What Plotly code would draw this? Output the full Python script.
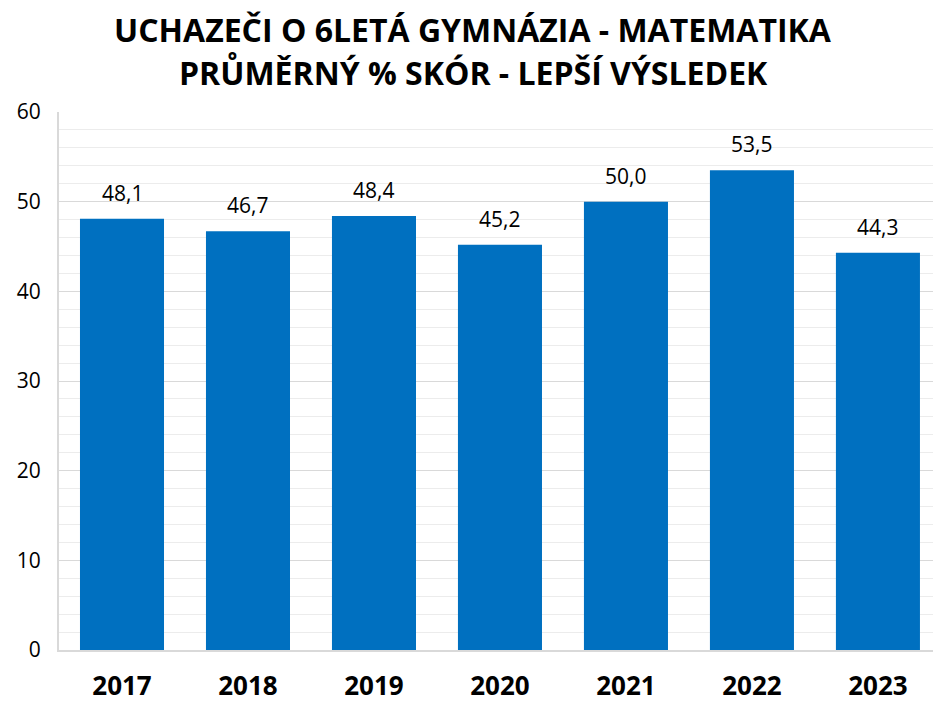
import plotly.graph_objects as go

years = ["2017", "2018", "2019", "2020", "2021", "2022", "2023"]
scores = [48.1, 46.7, 48.4, 45.2, 50.0, 53.5, 44.3]
title_lines = ["UCHAZEČI O 6LETÁ GYMNÁZIA - MATEMATIKA",
               "PRŮMĚRNÝ % SKÓR - LEPŠÍ VÝSLEDEK"]

FONT = "Open Sans"
BAR = "#0070c0"

fig = go.Figure()
fig.add_trace(go.Bar(
    x=years, y=scores, marker=dict(color=BAR, line=dict(width=0)),
    width=0.667, hoverinfo="skip",
))

# value labels above each bar, Czech decimal comma
for i, v in enumerate(scores):
    fig.add_annotation(
        x=i, y=v, xref="x", yref="y", yanchor="bottom", yshift=10,
        text=f"{v:.1f}".replace(".", ","), showarrow=False,
        font=dict(family=FONT, size=21, color="#000000"),
    )

for txt, yp in zip(title_lines, [1.154, 1.0725]):
    fig.add_annotation(
        x=0.4737, y=yp, xref="paper", yref="paper", xanchor="center", yanchor="middle",
        text=f"<b>{txt}</b>", showarrow=False,
        font=dict(family=FONT, size=32, color="#000000"),
    )

fig.update_layout(
    width=933, height=702,
    margin=dict(l=59, r=0, t=112, b=52),
    paper_bgcolor="white", plot_bgcolor="white",
    showlegend=False, bargap=0.333,
    font=dict(family=FONT, color="#000000"),
)
fig.update_xaxes(
    type="category", range=[-0.5, 6.437],
    showline=True, linecolor="#d9d9d9", linewidth=2,
    showgrid=False, ticks="", ticklabelstandoff=12,
    tickfont=dict(family=FONT, size=26, color="#000000", weight="bold"),
)
fig.update_yaxes(
    range=[0, 60], dtick=10, tick0=0,
    showline=True, linecolor="#d9d9d9", linewidth=2,
    showgrid=True, gridcolor="#d9d9d9", gridwidth=1.3,
    minor=dict(dtick=2, showgrid=True, gridcolor="#ececec", gridwidth=1.3),
    ticks="", ticklabelstandoff=12, zeroline=False,
    tickfont=dict(family=FONT, size=21, color="#000000"),
)

fig.write_html("out.html")
